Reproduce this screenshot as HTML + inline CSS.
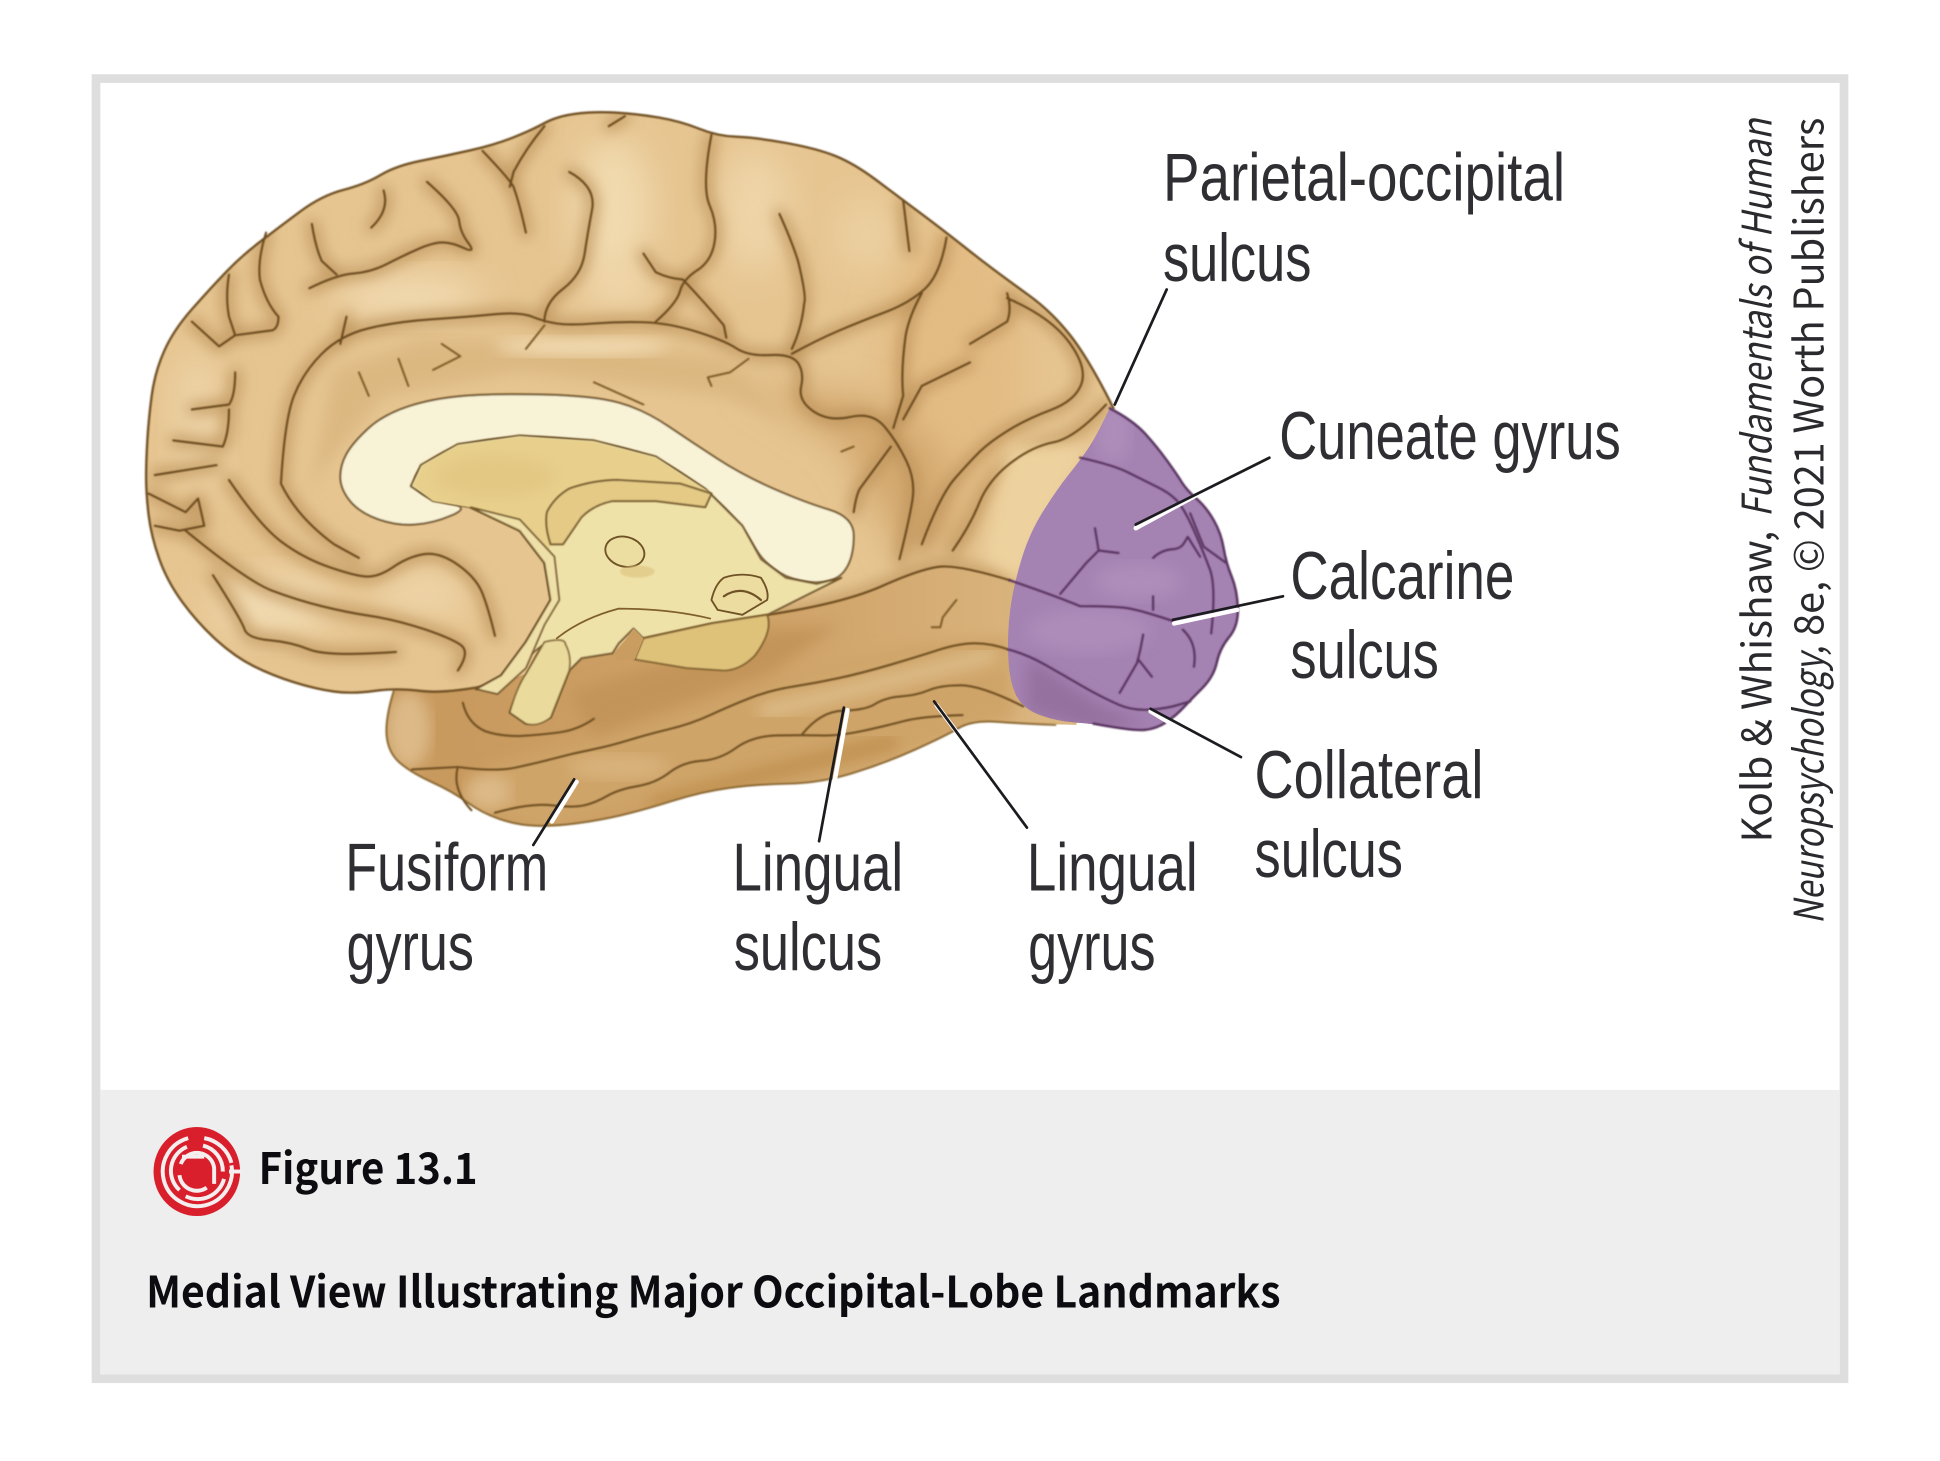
<!DOCTYPE html>
<html><head><meta charset="utf-8"><style>
html,body{margin:0;padding:0;background:#fff;width:1940px;height:1461px;overflow:hidden}
svg{display:block}
.l{font-family:"Liberation Sans Narrow","Liberation Sans",sans-serif;font-size:55px;fill:#2e2e33;font-weight:400}
.c{font-family:"Noto Sans CJK JP","Liberation Sans",sans-serif;font-size:35px;fill:#0c0c10;font-weight:700}
.k{font-family:"Noto Sans CJK JP","Liberation Sans",sans-serif;font-size:33px;fill:#2a2a2e}
.s{fill:none;stroke-linecap:round;stroke-linejoin:round}
</style></head><body>
<svg width="1940" height="1461" viewBox="0 0 1568 1181" xmlns="http://www.w3.org/2000/svg">
<defs>
<linearGradient id="band" x1="0" x2="1" y1="0" y2="0"><stop offset="0" stop-color="#c7985c"/><stop offset="0.55" stop-color="#cfa268"/><stop offset="1" stop-color="#dcb983"/></linearGradient>
<filter id="b1" x="-10%" y="-10%" width="120%" height="120%"><feGaussianBlur stdDeviation="6"/></filter>
<filter id="b2" x="-30%" y="-30%" width="160%" height="160%"><feGaussianBlur stdDeviation="14"/></filter>
<filter id="b3" x="-5%" y="-5%" width="110%" height="110%"><feGaussianBlur stdDeviation="0.55"/></filter>
<clipPath id="cer"><path d="M900 330Q880 290 865 271Q850 252 832 239Q814 226 802 217Q790 208 777.5 198Q765 188 745 173Q725 158 707.5 145Q690 132 675 126Q660 120 635 115.5Q610 111 595 110.5Q580 110 565 104Q550 98 532.5 95Q515 92 497.5 91Q480 90 465 92Q450 94 440 99.5Q430 105 415 111Q400 117 380 121.5Q360 126 340 130Q320 134 307.5 141.5Q295 149 277.5 153.5Q260 158 242.5 171Q225 184 210 195.5Q195 207 182.5 220Q170 233 155 250Q140 267 132.5 284Q125 301 122.5 320Q120 339 119 356Q118 373 118 386Q118 399 120 416Q122 433 128.5 451.5Q135 470 147.5 487Q160 504 175 517.5Q190 531 205 538.5Q220 546 237.5 551.5Q255 557 270 559Q285 561 302.5 558.5Q320 556 340 558.5Q360 561 400 553L440 540L620 497Q681 488 713.5 473.5Q746 459 761 458Q776 457 816 469L860 480L880 420L910 370Z"/></clipPath>
<clipPath id="tem"><path d="M318 559Q311 582 312.5 595.5Q314 609 323.5 617Q333 625 349.5 632.5Q366 640 377.5 648.5Q389 657 403.5 662Q418 667 433 667.5Q448 668 466.5 665.5Q485 663 502 659Q519 655 543 647.5Q567 640 589 637Q611 634 637 633.5Q663 633 689 625Q715 617 739.5 606Q764 595 775 588.5Q786 582 806.5 583.5Q827 585 870 586L880 540L860 440L770 430L620 470L515 500L465 500L400 530L360 545L320 550Z"/></clipPath>
<clipPath id="pur"><path d="M897 330Q916 340 925.5 350.5Q935 361 943 372Q951 383 955 389.5Q959 396 967 403Q975 410 981 420.5Q987 431 989 443Q991 455 995.5 466Q1000 477 1000.5 491.5Q1001 506 993.5 515Q986 524 983.5 535.5Q981 547 971.5 556.5Q962 566 956.5 572Q951 578 943 583.5Q935 589 925.5 590Q916 591 900 588Q884 585 869 584Q854 583 840.5 578Q827 573 821.5 562.5Q816 552 815 532Q814 512 816.5 493Q819 474 825.5 452.5Q832 431 843 413.5Q854 396 863.5 384Q873 372 879.5 362.5Q886 353 897 330Z"/></clipPath>
<path id="sulci" d="M227 391Q230 339 237.5 320Q245 301 260 286Q275 271 297.5 265.5Q320 260 350 258Q380 256 400 254Q420 252 430 256Q440 260 450 261.5Q460 263 480 261.5Q500 260 520 260.5Q540 261 562.5 268Q585 275 595 281.5Q605 288 622.5 287Q640 286 645 293.5Q650 301 647.5 312.5Q645 324 657.5 332.5Q670 341 687.5 337Q705 333 715 345Q725 357 732.5 372.5Q740 388 737.5 404Q735 420 727 452
M227 391Q240 418 270 440L290 451
M185 388Q210 425 227.5 438Q245 451 265 458Q285 465 295 466Q305 467 317.5 458.5Q330 450 342.5 448Q355 446 370 456.5Q385 467 390 480Q395 493 400 514
M172 465Q195 501 197.5 508.5Q200 516 217.5 517.5Q235 519 250 525Q265 531 320 527
M150 429Q200 470 220 477.5Q240 485 260 490Q280 495 300 498Q320 501 342.5 508.5Q365 516 372.5 521.5Q380 527 370 542
M250 233Q272 222 286 221Q300 220 312.5 213.5Q325 207 337.5 201.5Q350 196 357.5 196Q365 196 375 200.5Q385 205 378.5 196.5Q372 188 371 178.5Q370 169 345 147
M252 181Q255 200 260 211L272 222
M310 154Q315 170 300 184
M390 122Q412 145 415 151Q420 165 425 188
M440 102Q425 120 415 139L412 151
M440 260Q440 245 455 233.5Q470 222 472.5 205Q475 188 478.5 169.5Q482 151 460 139
M492 102L505 94
M575 109Q567 151 573.5 166Q580 181 577.5 196Q575 211 563.5 218.5Q552 226 549.5 235.5Q547 245 530 260
M520 205L530 220Q540 225 552 226Q570 245 585 263L587 273
M630 173Q640 195 645 211Q652 240 650 245Q648 265 640 282
M765 192Q760 222 747.5 233.5Q735 245 715 252.5Q695 260 677.5 267.5Q660 275 640 286
M730 162L735 203
M745 237Q735 255 732 271Q728 300 730 320L722 346
M814 237Q818 250 814 260L784 278
M814 241Q849 256 864 276.5Q879 297 874 310.5Q869 324 849 331.5Q829 339 814 348.5Q799 358 791.5 365.5Q784 373 772 386.5Q760 400 745 440
M784 293L745 312L730 339
M894 327Q869 354 851.5 357.5Q834 361 816.5 374.5Q799 388 791.5 406.5Q784 425 770 445
M215 188Q208 210 210 226Q215 245 225 256Q225 265 220 267L190 271
M185 222Q182 240 185 256L190 271
M155 260L177 280L190 271
M280 256L275 278
M190 301Q190 320 185 327L155 331
M185 331Q185 350 180 361L140 356
M175 376L125 384
M120 399L150 414L160 403L165 425L145 429L125 425
M690 414Q692 400 695 395L720 361
M620 497Q681 488 713.5 473.5Q746 459 761 458Q776 457 816 469"/>
</defs>
<rect width="1568" height="1181" fill="#fff"/>
<!-- frame -->
<rect x="77.5" y="63.5" width="1413" height="1051" fill="#fff" stroke="#dedede" stroke-width="7"/>
<rect x="81" y="881" width="1406" height="230" fill="#eeeeee"/>

<!-- temporal (dark lower) -->
<g clip-path="url(#tem)">
<rect x="300" y="430" width="590" height="250" fill="url(#band)"/>
<path d="M400 620L500 590L600 560L740 520L815 515L820 580L700 620L560 640L440 672L370 650Z" fill="#cfa469" filter="url(#b1)"/>
<path d="M460 560L620 510L680 505L620 545L480 595Z" fill="#c3945a" filter="url(#b1)"/>
<ellipse cx="330" cy="590" rx="18" ry="32" fill="#dcb987" filter="url(#b1)"/>
<ellipse cx="395" cy="640" rx="18" ry="14" fill="#dcb987" filter="url(#b1)"/>
<ellipse cx="500" cy="620" rx="40" ry="10" fill="#d8b27c" filter="url(#b1)"/>
<path d="M620 575L720 550L800 530" class="s" stroke="#dcbb86" stroke-width="14" filter="url(#b1)"/>
<path d="M740 490L810 490" class="s" stroke="#e2c491" stroke-width="22" filter="url(#b1)"/>
<path d="M530 650L620 625L720 600" class="s" stroke="#c0914f" stroke-width="12" filter="url(#b1)"/>
</g>
<!-- cerebrum -->
<g clip-path="url(#cer)">
<rect x="100" y="80" width="830" height="500" fill="#e6c591"/>
<ellipse cx="770" cy="300" rx="60" ry="120" fill="#e3bc84" filter="url(#b2)"/>
<path d="M600 310L680 360L730 450L780 440L760 360L700 320Z" fill="#d3a970" filter="url(#b2)"/>
<path d="M250 400L270 300L340 275L480 275L590 290L640 340L580 320L420 300L310 320L260 380Z" fill="#dcb881" filter="url(#b1)"/>
<ellipse cx="495" cy="170" rx="32" ry="60" fill="#f1daaf" filter="url(#b2)"/>
<ellipse cx="610" cy="170" rx="30" ry="50" fill="#eed4a7" filter="url(#b2)"/>
<ellipse cx="330" cy="240" rx="60" ry="18" fill="#f1dab1" filter="url(#b2)"/>
<ellipse cx="470" cy="280" rx="70" ry="8" fill="#f1dab1" filter="url(#b1)"/>
<ellipse cx="160" cy="340" rx="20" ry="55" fill="#eed4a7" filter="url(#b2)"/>
<ellipse cx="220" cy="490" rx="50" ry="25" fill="#f1dab1" filter="url(#b2)"/>
<ellipse cx="340" cy="480" rx="40" ry="20" fill="#eed4a7" filter="url(#b2)"/>
<ellipse cx="500" cy="230" rx="30" ry="20" fill="#efd6a9" filter="url(#b2)"/>
<ellipse cx="700" cy="190" rx="25" ry="30" fill="#ecd0a0" filter="url(#b2)"/>
<use href="#sulci" class="s" stroke="#bb9158" stroke-width="8" filter="url(#b1)"/>
<path d="M825 470L845 420L880 360L815 360L795 450Z" fill="#edd29f" filter="url(#b1)"/>
</g>
<!-- outlines: cerebrum + temporal -->
<g filter="url(#b3)" fill="none">
<path class="s" d="M900 330Q880 290 865 271Q850 252 832 239Q814 226 802 217Q790 208 777.5 198Q765 188 745 173Q725 158 707.5 145Q690 132 675 126Q660 120 635 115.5Q610 111 595 110.5Q580 110 565 104Q550 98 532.5 95Q515 92 497.5 91Q480 90 465 92Q450 94 440 99.5Q430 105 415 111Q400 117 380 121.5Q360 126 340 130Q320 134 307.5 141.5Q295 149 277.5 153.5Q260 158 242.5 171Q225 184 210 195.5Q195 207 182.5 220Q170 233 155 250Q140 267 132.5 284Q125 301 122.5 320Q120 339 119 356Q118 373 118 386Q118 399 120 416Q122 433 128.5 451.5Q135 470 147.5 487Q160 504 175 517.5Q190 531 205 538.5Q220 546 237.5 551.5Q255 557 270 559Q285 561 302.5 558.5Q320 556 340 558.5Q360 561 400 553" stroke="#6f4f22" stroke-width="1.9"/>
<path class="s" d="M318 559Q311 582 312.5 595.5Q314 609 323.5 617Q333 625 349.5 632.5Q366 640 377.5 648.5Q389 657 403.5 662Q418 667 433 667.5Q448 668 466.5 665.5Q485 663 502 659Q519 655 543 647.5Q567 640 589 637Q611 634 637 633.5Q663 633 689 625Q715 617 739.5 606Q764 595 775 588.5Q786 582 806.5 583.5Q827 585 853 586" stroke="#8d6a35" stroke-width="1.6"/>
<use href="#sulci" stroke="#6a4a1e" stroke-width="1.7" class="s"/>
<path class="s" stroke="#7d5a26" stroke-width="1.6" d="M290 301L298 320M322 290L330 312M350 299L372 288L357 278M440 263L425 282M605 290L590 301L572 305L575 312M480 309L520 327M680 365L690 361M773 485Q765 495 762 499L760 507L753 507"/>
<path class="s" stroke="#6f4f20" stroke-width="1.7" d="M370 620Q400 624 416.5 620.5Q433 617 448 613Q463 609 478 606Q493 603 507.5 598.5Q522 594 540.5 589.5Q559 585 574 578Q589 571 605.5 564.5Q622 558 641 555Q660 552 678.5 548Q697 544 719 537.5Q741 531 758 525.5Q775 520 788 520Q801 520 815 525
M400 657Q429 649 446 651Q463 653 472 651Q481 649 490.5 643.5Q500 638 515 635.5Q530 633 541 624.5Q552 616 567 615Q582 614 595 604.5Q608 595 628 594.5Q648 594 663 594.5Q678 595 696.5 591Q715 587 730 583Q745 579 778 578
M648 594Q663 575 681.5 574.5Q700 574 707.5 569Q715 564 728 563Q741 562 750.5 558Q760 554 776.5 554Q793 554 827 571
M374 568Q378 585 392 591Q403 595 420 595Q437 594 452 592Q467 590 480 581
M370 620Q365 638 381 655M333 622L370 620"/>
</g>
<!-- corpus callosum -->
<path d="M275 385.5Q275 376 280 367Q285 358 297.5 346.5Q310 335 330 328.5Q350 322 375 320Q400 318 440 319Q480 320 500 325.5Q520 331 540 344.5Q560 358 580 371Q600 384 625 395Q650 406 670 412Q690 418 690 433Q690 448 685 457.5Q680 467 670 469.5Q660 472 647.5 469.5Q635 467 625 459.5Q615 452 607.5 438.5Q600 425 585 410Q570 395 550 382Q530 369 505 362.5Q480 356 450 354Q420 352 395 355.5Q370 359 355 367.5Q340 376 336 384.5Q332 393 341 399Q350 405 365 407.5Q380 410 365 416.5Q350 423 335 424Q320 425 305 419.5Q290 414 282.5 404.5Q275 395 275 385.5Z" fill="#f8f2d6" stroke="#6f5226" stroke-width="1.6" stroke-linejoin="round" filter="url(#b3)"/>
<!-- yellow deep structures -->
<path d="M332 393L340 376L370 359L420 352L480 356L530 369L570 395L600 425L615 452L635 467L660 472L680 467L650 482L620 497L575 504L520 516L512 508L500 520L495 528L470 532L460 542L445 580L425 585L412 576L422 552L438 522L405 546L385 557L405 546L425 519L445 485L440 455L420 429L380 410L350 405Z" fill="#efe2a9" stroke="#6f5226" stroke-width="1.6" stroke-linejoin="round" filter="url(#b3)"/>
<path d="M334 392L342 376L370 360L420 353L480 357L530 370L570 396L575 399L550 391L500 388L460 395L442 414L445 440L440 455L420 429L380 410L350 405Z" fill="#e8d08c" filter="url(#b3)"/>
<ellipse cx="400" cy="385" rx="50" ry="18" fill="#e3c884" filter="url(#b1)"/>
<path d="M440 519Q457 515 457 521Q462 530 460 542L445 580Q435 588 425 585L412 576Q418 555 425 545Z" fill="#eadb9c" stroke="#7d5f2f" stroke-width="1.3" filter="url(#b3)"/>
<path d="M380 410L420 429L440 455L445 485L425 519L405 546L385 557L402 561L425 540L440 505L452 485L448 450L420 420Z" fill="#efe0a8" stroke="#6f5226" stroke-width="1.4" filter="url(#b3)"/>
<path d="M445 440Q440 425 442 414Q448 402 460 395Q480 388 500 388L550 391L575 399L570 410L530 405L495 405Q480 408 470 418L455 440Z" fill="#e4ca85" stroke="#6f5226" stroke-width="1.5" stroke-linejoin="round" filter="url(#b3)"/>
<ellipse cx="505" cy="446" rx="16" ry="12" fill="#ecdda0" stroke="#6f5226" stroke-width="1.5" transform="rotate(15 505 446)"/>
<ellipse cx="515" cy="462" rx="14" ry="5" fill="#dcc27c" filter="url(#b3)" opacity="0.6"/>
<path d="M513 533L520 516L575 504L620 497Q625 510 610 530Q598 542 585 542L555 540Z" fill="#dfc27a" stroke="#7f5f2c" stroke-width="1.5" stroke-linejoin="round" filter="url(#b3)"/>
<path d="M496 528L505 518L512 508L520 516L513 533L498 534Z" fill="#c99c60"/>
<path d="M450 516Q470 500 500 492Q540 492 574 500" class="s" stroke="#7f5f2c" stroke-width="1.4"/>
<path d="M575 485Q578 472 585 467Q600 462 615 467Q622 478 620 485L600 497L580 493Z" fill="#ecdca0" stroke="#6f5226" stroke-width="1.5" stroke-linejoin="round"/>
<path d="M585 482Q600 472 615 485" class="s" stroke="#6f5226" stroke-width="1.8"/>
<!-- purple occipital -->
<g clip-path="url(#pur)">
<rect x="800" y="320" width="210" height="280" fill="#a482b2"/>
<ellipse cx="880" cy="510" rx="50" ry="18" fill="#ad8cb9" filter="url(#b1)"/>
<ellipse cx="920" cy="470" rx="35" ry="15" fill="#ae8dba" filter="url(#b1)"/>
<ellipse cx="900" cy="350" rx="14" ry="24" fill="#ae8dba" filter="url(#b1)"/>
<path d="M830 530L890 570L930 585L880 590L830 575Z" fill="#95719f" filter="url(#b1)"/>
</g>
<g filter="url(#b3)">
<path class="s" stroke="#5a3560" stroke-width="2" d="M897 330Q916 340 925.5 350.5Q935 361 943 372Q951 383 955 389.5Q959 396 967 403Q975 410 981 420.5Q987 431 989 443Q991 455 995.5 466Q1000 477 1000.5 491.5Q1001 506 993.5 515Q986 524 983.5 535.5Q981 547 971.5 556.5Q962 566 956.5 572Q951 578 943 583.5Q935 589 925.5 590Q916 591 884 585"/>
<path class="s" stroke="#5a3560" stroke-width="1.8" d="M873 370Q900 376 912 382Q924 388 936 394Q948 400 953.5 407.5Q959 415 966 431Q973 447 978 460.5Q983 474 979 512
M962 415Q970 435 973 442L991 455
M932 451Q938 445 947 444Q954 444 957 439L960 434L970 450
M885 427L888 445L878 455L857 480M888 445L904 447
M816 469Q854 482 873 490Q903 490 913.5 492Q924 494 948 502
M932 482L932 493
M956 509Q968 520 965 539
M924 513Q922 525 919 536L905 560M920 533L931 547
M815 525Q830 529 845 537.5Q860 546 874.5 554.5Q889 563 905 570Q921 577 948 571L962 567"/>
</g>
<!-- leaders -->
<g>
<path class="s" stroke="#fff" stroke-width="3.6" d="M918 427L975 396M949 504L1000 493M930 575L965 596M757 570L790 614M685 574L673 640M466 632L446 664"/>
<path class="s" stroke="#1c1c20" stroke-width="2.2" d="M943 234L901 327M1026 370L918 424M1037 482L948 501M1003 612L930 573M830 669L755 567M662 680L682 572M431 683L464 630"/>
</g>
<!-- labels -->
<text class="l" x="940" y="162" textLength="325" lengthAdjust="spacingAndGlyphs">Parietal-occipital</text>
<text class="l" x="940" y="227" textLength="120" lengthAdjust="spacingAndGlyphs">sulcus</text>
<text class="l" x="1034" y="371" textLength="276" lengthAdjust="spacingAndGlyphs">Cuneate gyrus</text>
<text class="l" x="1043" y="484" textLength="181" lengthAdjust="spacingAndGlyphs">Calcarine</text>
<text class="l" x="1043" y="548" textLength="120" lengthAdjust="spacingAndGlyphs">sulcus</text>
<text class="l" x="1014" y="645" textLength="185" lengthAdjust="spacingAndGlyphs">Collateral</text>
<text class="l" x="1014" y="709" textLength="120" lengthAdjust="spacingAndGlyphs">sulcus</text>
<text class="l" x="830" y="720" textLength="138" lengthAdjust="spacingAndGlyphs">Lingual</text>
<text class="l" x="831" y="784" textLength="103" lengthAdjust="spacingAndGlyphs">gyrus</text>
<text class="l" x="592" y="720" textLength="138" lengthAdjust="spacingAndGlyphs">Lingual</text>
<text class="l" x="593" y="784" textLength="120" lengthAdjust="spacingAndGlyphs">sulcus</text>
<text class="l" x="279" y="720" textLength="164" lengthAdjust="spacingAndGlyphs">Fusiform</text>
<text class="l" x="280" y="784" textLength="103" lengthAdjust="spacingAndGlyphs">gyrus</text>
<!-- credit -->
<g transform="translate(1432 681) rotate(-90)">
<text class="k" x="0" y="0" textLength="252" lengthAdjust="spacingAndGlyphs">Kolb &amp; Whishaw,</text>
<text class="k" x="263" y="0" textLength="322" lengthAdjust="spacingAndGlyphs" font-style="italic">Fundamentals of Human</text>
</g>
<g transform="translate(1474 747) rotate(-90)">
<text class="k" x="0" y="0" textLength="225" lengthAdjust="spacingAndGlyphs" font-style="italic">Neuropsychology,</text>
<text class="k" x="233" y="0" textLength="419" lengthAdjust="spacingAndGlyphs">8e, © 2021 Worth Publishers</text>
</g>
<!-- icon -->
<g transform="translate(159 947)">
<ellipse cx="0" cy="0" rx="35" ry="36" fill="#d81f2b"/>
<g fill="none" stroke="#f5eeee" stroke-width="3.2">
<path d="M-7 -27A28 28 0 1 0 28 -5"/>
<path d="M6 -27A28 28 0 0 1 28 -7"/>
<path d="M-8 -20A21 21 0 0 0 -14 15"/>
<path d="M-9 20A22 22 0 0 0 22 6"/>
<path d="M5 -21A21 21 0 0 1 21 0"/>
<path d="M-13 -6A14 14 0 0 1 14 -3L14 10"/>
<path d="M-14 3A14 14 0 0 0 8 13"/>
<path d="M-12 -12L6 -12"/>
<path d="M26 0L37 0"/>
</g>
<circle cx="-1" cy="0" r="8" fill="#d81f2b"/>
</g>
<!-- caption -->
<text class="c" x="209" y="957" textLength="177" lengthAdjust="spacingAndGlyphs">Figure 13.1</text>
<text class="c" x="118" y="1057" textLength="917" lengthAdjust="spacingAndGlyphs">Medial View Illustrating Major Occipital-Lobe Landmarks</text>
</svg>
</body></html>
